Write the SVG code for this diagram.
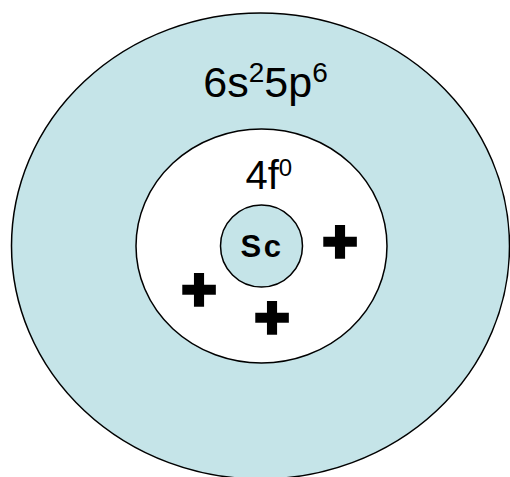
<svg xmlns="http://www.w3.org/2000/svg" width="510" height="477" viewBox="0 0 510 477">
<style>
.shell{fill:#C5E4E8;stroke:#000;stroke-width:1.5}
.core{fill:#FFFFFF;stroke:#000;stroke-width:1.5}
.lbl{font-family:"Liberation Sans",Arial,sans-serif;fill:#000}
.plus{font-family:"Liberation Sans",Arial,sans-serif;font-weight:bold;font-size:60px;fill:#000;stroke:#000;stroke-width:3.5;text-anchor:middle}
</style>
<rect x="0" y="0" width="510" height="477" fill="#FFFFFF"/>
<g id="outer-shell">
<ellipse class="shell" cx="260.5" cy="246" rx="249" ry="233"/>
<text class="lbl" x="203.3" y="96.5" font-size="43">6s<tspan font-size="28" dy="-14.5">2</tspan><tspan dy="14.5">5p</tspan><tspan font-size="28" dy="-14.5">6</tspan></text>
</g>
<g id="inner-shell">
<ellipse class="core" cx="261.5" cy="246" rx="125.5" ry="117"/>
<text class="lbl" x="245.5" y="189" font-size="40">4f<tspan font-size="24" dy="-13.5">0</tspan></text>
</g>
<g id="nucleus">
<circle class="shell" cx="261.5" cy="246" r="41"/>
<text class="lbl" x="240.5" y="256.5" font-size="31" font-weight="bold" letter-spacing="2.6">Sc</text>
</g>
<g id="charges">
<text class="plus" x="340" y="261.8">+</text>
<text class="plus" x="199" y="310.3">+</text>
<text class="plus" x="272" y="338.3">+</text>
</g>
</svg>
